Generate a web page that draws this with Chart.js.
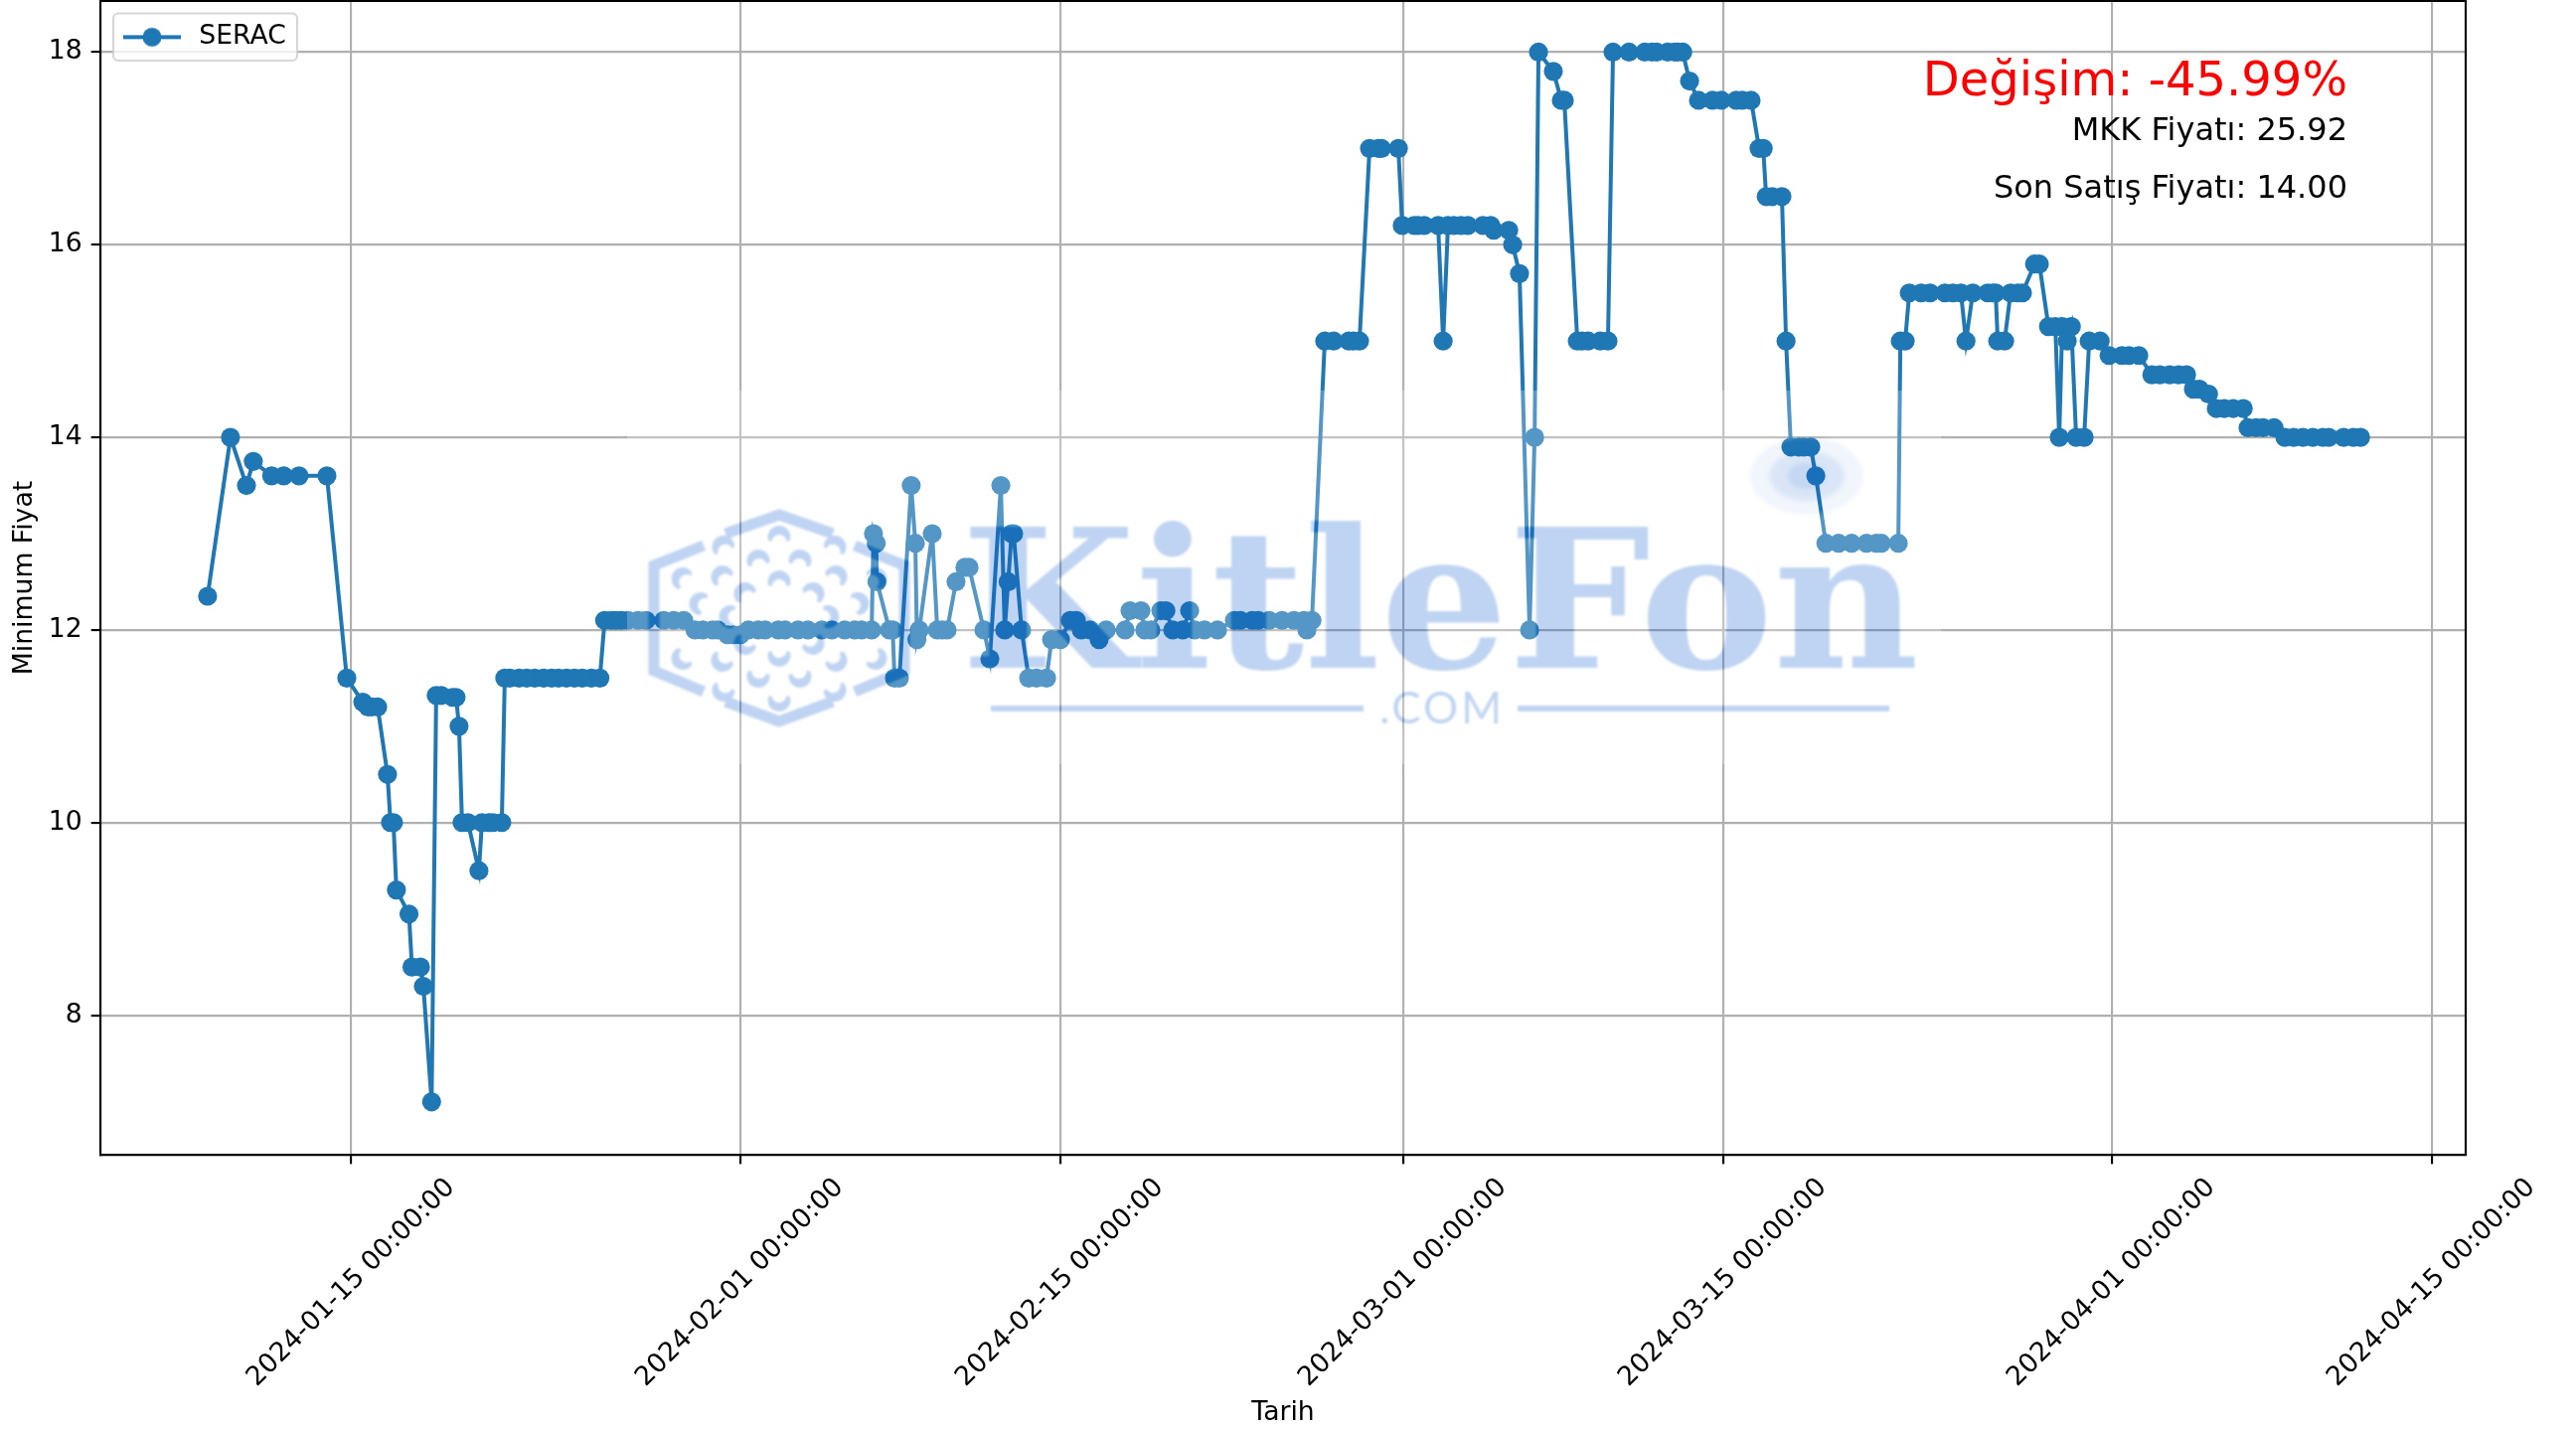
<!DOCTYPE html>
<html>
<head>
<meta charset="utf-8">
<style>html,body{margin:0;padding:0;background:#fff}canvas{display:block}</style>
<script src="https://cdn.jsdelivr.net/npm/chart.js@4"></script>
</head>
<body>
<canvas id="c" width="2592" height="1438"></canvas>
<script>
// Days since 2024-01-01 (fractional)
const days = [7.71,8.71,9.41,9.71,10.51,11.04,11.71,12.93,13.80,14.50,14.73,14.89,15.15,15.58,15.71,15.84,15.97,16.52,16.65,17.02,17.15,17.51,17.71,17.93,18.43,18.58,18.71,18.84,19.10,19.58,19.71,20.02,20.19,20.58,
20.71,20.93,21.34,21.67,22.02,22.41,22.76,23.06,23.41,23.76,24.10,24.50,24.87,
25.08,25.37,25.58,25.80,26.10,26.54,26.89,27.67,28.10,28.54,
29.03,29.37,29.80,30.02,30.45,30.71,31.02,31.37,31.80,32.10,32.67,32.97,33.54,33.97,34.58,35.02,35.58,36.02,36.32,36.76,
36.84,36.96,36.99,37.54,37.68,37.76,37.97,38.49,38.67,38.74,38.84,39.41,39.63,39.84,40.06,40.45,40.84,41.02,41.67,41.93,42.41,42.58,42.73,42.88,42.97,43.32,43.63,43.97,44.41,44.63,45.02,45.45,45.71,
45.93,46.32,46.71,47.02,47.85,48.06,48.54,48.71,48.97,49.41,49.63,49.93,50.37,50.67,50.89,51.32,51.89,
52.63,52.89,53.41,53.67,54.15,54.71,55.23,55.67,55.80,56.02,
56.58,56.97,57.63,57.84,58.10,58.54,58.93,59.06,59.80,
59.97,60.50,60.67,60.93,61.54,61.76,61.97,62.23,62.54,62.84,63.50,63.84,63.97,64.63,64.80,65.10,65.54,65.76,65.93,66.58,66.93,67.06,
67.63,67.84,68.10,68.63,68.97,69.19,69.89,70.58,70.89,71.10,71.58,71.89,72.02,72.24,72.54,
72.93,73.54,73.93,74.58,74.84,75.23,75.58,75.76,75.89,76.15,76.58,76.76,76.97,77.32,77.54,77.84,78.06,
78.50,79.06,79.63,80.28,80.71,80.93,81.67,81.76,81.97,82.15,82.67,83.06,83.71,84.06,84.41,84.63,84.93,85.58,85.80,85.93,86.02,86.32,86.58,86.89,87.10,87.63,87.84,
88.24,88.54,88.71,88.84,89.06,89.24,89.45,89.80,90.02,90.50,90.89,91.45,91.76,92.19,92.76,93.11,93.54,93.93,94.28,94.58,94.84,95.24,95.58,95.93,96.32,96.76,96.97,97.32,97.63,98.11,
98.58,98.97,99.37,99.80,100.24,100.50,101.15,101.58,101.89];

const prices = [12.35,14,13.5,13.75,13.6,13.6,13.6,13.6,11.5,11.25,11.2,11.2,11.2,10.5,10,10,9.3,9.05,8.5,8.5,8.3,7.1,11.32,11.32,11.3,11.3,11,10,10,9.5,10,10,10,10,
11.5,11.5,11.5,11.5,11.5,11.5,11.5,11.5,11.5,11.5,11.5,11.5,11.5,
12.1,12.1,12.1,12.1,12.1,12.1,12.1,12.1,12.1,12.1,
12,12,12,12,11.95,11.95,11.95,12,12,12,12,12,12,12,12,12,12,12,12,12,
13,12.9,12.5,12,12,11.5,11.5,13.5,12.9,11.9,12,13,12,12,12,12.5,12.65,12.65,12,11.7,13.5,12,12.5,13,13,12,11.5,11.5,11.5,11.9,11.9,12.1,12.1,
12,12,11.9,12,12,12.2,12.2,12,12,12.2,12.2,12,12,12.2,12,12,12,
12.1,12.1,12.1,12.1,12.1,12.1,12.1,12.1,12,12.1,
15,15,15,15,15,17,17,17,17,
16.2,16.2,16.2,16.2,16.2,15,16.2,16.2,16.2,16.2,16.2,16.2,16.15,16.15,16,15.7,12,14,18,17.8,17.5,17.5,
15,15,15,15,15,18,18,18,18,18,18,18,18,18,17.7,
17.5,17.5,17.5,17.5,17.5,17.5,17,17,16.5,16.5,16.5,15,13.9,13.9,13.9,13.9,13.6,
12.9,12.9,12.9,12.9,12.9,12.9,12.9,15,15,15.5,15.5,15.5,15.5,15.5,15.5,15,15.5,15.5,15.5,15.5,15,15,15.5,15.5,15.5,15.8,15.8,
15.15,15.15,14,15.15,15,15.15,14,14,15,15,14.85,14.85,14.85,14.85,14.65,14.65,14.65,14.65,14.65,14.5,14.5,14.45,14.3,14.3,14.3,14.3,14.1,14.1,14.1,14.1,
14,14,14,14,14,14,14,14,14];

const seriesName = "SERAC";
const xTickDays = [14,31,45,60,74,91,105];
const xTickLabels = ["2024-01-15 00:00:00","2024-02-01 00:00:00","2024-02-15 00:00:00","2024-03-01 00:00:00","2024-03-15 00:00:00","2024-04-01 00:00:00","2024-04-15 00:00:00"];
const yTicks = [8,10,12,14,16,18];
const xTitle = "Tarih";
const yTitle = "Minimum Fiyat";
const changeText = "Değişim: -45.99%";
const infoTexts = ["MKK Fiyatı: 25.92","Son Satış Fiyatı: 14.00"];
const watermarkName = "KitleFon";
const watermarkDomain = ".COM";

const FONT = '"DejaVu Sans"';
const BLUE = '#1f77b4';

function legendHandle(){
  const h = document.createElement('canvas');
  h.width = 63; h.height = 24;
  const g = h.getContext('2d');
  g.strokeStyle = BLUE; g.lineWidth = 4;
  g.beginPath(); g.moveTo(0,12); g.lineTo(58,12); g.stroke();
  g.fillStyle = BLUE;
  g.beginPath(); g.arc(29,12,9.5,0,Math.PI*2); g.fill();
  return h;
}

function roundRect(ctx,x,y,w,h,r){ctx.beginPath();ctx.roundRect(x,y,w,h,r);}

function drawHexLogo(g){
  const cx=784, cy=622.5;
  g.save();
  g.strokeStyle='#0a58cc'; g.fillStyle='#0a58cc'; g.lineWidth=11; g.lineJoin='miter';
  const segs=[
    [[708,549],[658,569],[658,675],[708,696]],
    [[730,537],[784,518],[838,537]],
    [[730,706],[784,726],[838,706]],
    [[860,549],[910,569],[910,675],[860,696]]
  ];
  segs.forEach(s=>{g.beginPath();s.forEach((p,i)=>i?g.lineTo(p[0],p[1]):g.moveTo(p[0],p[1]));g.stroke();});
  const spots=[[0,-82],[21,-58],[-21,-58],[56,-72],[-56,-72],[97,-40],[-97,-40],[57,-42],[-57,-42],[0,-37],[34,-25],[-34,-25],[79,-15],[-79,-15],[49,-2],[-49,-2]];
  [1,-1].forEach(m=>spots.forEach(p=>{
    if(m<0 && (Math.abs(p[0])===79||Math.abs(p[0])===49)) return;
    const px=cx+p[0], py=cy+m*p[1];
    const ang=Math.atan2(m*p[1],p[0]*0.5), c=Math.cos(ang), s=Math.sin(ang);
    g.beginPath();
    g.arc(px,py,11.5,ang-1.85,ang+1.85);
    g.arc(px-c*5,py-s*5,7.5,ang+1.5,ang-1.5,true);
    g.closePath();
    g.fill();
  }));
  g.restore();
}

function drawWatermark(ctx){
  const X=631,Y=393,W=1322,H=376;
  const a=document.createElement('canvas');a.width=2592;a.height=1438;
  const g=a.getContext('2d');
  g.fillStyle='#0a58cc';
  g.font='bold 195px "DejaVu Serif"';
  g.textBaseline='alphabetic';g.textAlign='left';
  const tw=g.measureText(watermarkName).width;
  g.save();g.translate(967,672);g.scale(964/tw,1);g.fillText(watermarkName,0,0);g.restore();
  g.font='44px "Lato"';g.textAlign='center';
  g.letterSpacing='3px';
  g.fillText(watermarkDomain,1451,728);
  g.letterSpacing='0px';
  g.fillRect(997,710,375,6);g.fillRect(1527,710,374,6);
  drawHexLogo(g);

  const b=document.createElement('canvas');b.width=2592;b.height=1438;
  const k=b.getContext('2d');
  k.fillStyle='rgba(255,255,255,0.24)';k.fillRect(X,Y,W,H);
  k.save();k.filter='blur(1px)';
  k.globalCompositeOperation='destination-out';k.drawImage(a,0,0);
  k.globalCompositeOperation='source-over';k.globalAlpha=0.26;k.drawImage(a,0,0);
  k.restore();
  k.save();k.filter='blur(2px)';
  [[57,39,0.06],[38,25,0.15],[20,14,0.24]].forEach(e=>{
    k.beginPath();k.ellipse(1818,479,e[0],e[1],0,0,Math.PI*2);
    k.globalCompositeOperation='destination-out';k.fillStyle='#000';k.fill();
    k.globalCompositeOperation='source-over';k.fillStyle='rgba(10,88,204,'+e[2]+')';k.fill();
  });
  k.restore();
  ctx.drawImage(b,0,0);
}

const decor={
  id:'decor',
  beforeDraw(chart){
    const s=chart.scales.x;
    const items=s.getLabelItems(chart.chartArea);
    items.forEach((it,i)=>{
      it.options.textAlign='center';
      it.options.textBaseline='middle';
      it.options.translation=[s.getPixelForValue(xTickDays[i]),1291];
      it.textOffset=0;
    });
    const lg=chart.legend;
    if(!lg._framed){
      lg._framed=true;
      lg.top+=1;
      const orig=lg.draw.bind(lg);
      lg.draw=function(){
        const c=chart.ctx;
        c.save();
        roundRect(c,114,13.5,185,47.5,5);
        c.fillStyle='rgba(255,255,255,0.8)';c.fill();
        c.strokeStyle='rgba(204,204,204,0.8)';c.lineWidth=2.13;c.stroke();
        c.restore();
        orig();
      };
    }
  },
  afterDatasetsDraw(chart){
    const c=chart.ctx,a=chart.chartArea;
    c.save();
    c.strokeStyle='#000';c.lineWidth=2.13;
    c.beginPath();c.moveTo(a.left,a.top);c.lineTo(a.right,a.top);c.lineTo(a.right,a.bottom);c.stroke();
    c.restore();
  },
  afterDraw(chart){
    const c=chart.ctx;
    drawWatermark(c);
    c.save();
    c.textAlign='right';c.textBaseline='alphabetic';
    c.fillStyle='#ff0000';c.font='48px '+FONT;
    c.fillText(changeText,2362,96);
    c.fillStyle='#000';c.font='32px '+FONT;
    c.fillText(infoTexts[0],2362,141);
    c.fillText(infoTexts[1],2362,199);
    c.restore();
  }
};

Chart.defaults.font.family=FONT;
Chart.defaults.color='#000';

new Chart(document.getElementById('c'),{
  type:'line',
  plugins:[decor],
  data:{datasets:[{
    label:seriesName,
    data:days.map((d,i)=>({x:d,y:prices[i]})),
    borderColor:BLUE,backgroundColor:BLUE,
    borderWidth:4,tension:0,
    pointRadius:9.6,pointBorderWidth:0,pointBackgroundColor:BLUE,
    pointHoverRadius:9.6
  }]},
  options:{
    responsive:false,animation:false,events:[],
    layout:{autoPadding:false,padding:{top:1,right:111,left:0,bottom:0}},
    scales:{
      x:{
        type:'linear',min:3.02,max:106.49,
        afterBuildTicks(s){s.ticks=xTickDays.map(v=>({value:v}));},
        afterFit(s){s.height=276;s.paddingLeft=0;s.paddingRight=0;s.paddingTop=0;s.paddingBottom=0;},
        ticks:{
          font:{size:26.67},color:'#000',minRotation:45,maxRotation:45,autoSkip:false,padding:9,
          callback(v){const i=xTickDays.indexOf(v);return i>=0?xTickLabels[i]:'';}
        },
        grid:{color:'#b0b0b0',lineWidth:2.13,tickLength:9.33,tickColor:'#000',tickWidth:2.13},
        border:{color:'#000',width:2.13},
        title:{display:true,text:xTitle,font:{size:26.67},color:'#000',padding:{top:0,bottom:0}}
      },
      y:{
        min:6.551,max:18.531,
        afterBuildTicks(s){s.ticks=yTicks.map(v=>({value:v}));},
        afterFit(s){s.width=101;s.paddingLeft=0;s.paddingRight=0;s.paddingTop=0;s.paddingBottom=0;},
        ticks:{font:{size:26.67},color:'#000',padding:9,autoSkip:false,callback(v){return String(v);}},
        grid:{color:'#b0b0b0',lineWidth:2.13,tickLength:9.33,tickColor:'#000',tickWidth:2.13},
        border:{color:'#000',width:2.13},
        title:{display:true,text:yTitle,font:{size:26.67},color:'#000',padding:{top:9.5,bottom:0}}
      }
    },
    plugins:{
      tooltip:{enabled:false},
      legend:{
        position:'chartArea',align:'start',
        labels:{
          font:{size:26.67},color:'#000',usePointStyle:true,pointStyleWidth:63,
          padding:23,
          generateLabels(chart){
            return [{text:seriesName,fillStyle:BLUE,strokeStyle:BLUE,lineWidth:0,pointStyle:legendHandle(),datasetIndex:0,hidden:false}];
          }
        }
      }
    }
  }
});
</script>
</body>
</html>
